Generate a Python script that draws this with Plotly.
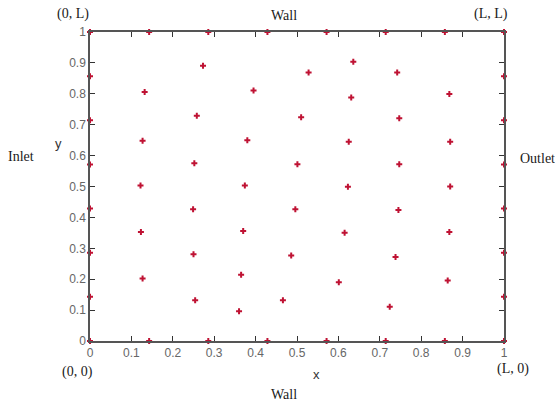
import plotly.graph_objects as go

# Boundary collocation nodes: the square edge split into sevenths
edge = [0, 1/7, 2/7, 3/7, 4/7, 5/7, 6/7, 1]
inner = [1/7, 2/7, 3/7, 4/7, 5/7, 6/7]

bottom_x = edge
bottom_y = [0] * len(edge)
top_x = edge
top_y = [1] * len(edge)
left_x = [0] * len(inner)
left_y = inner
right_x = [1] * len(inner)
right_y = inner

# Scattered interior nodes
interior_x = [0.273, 0.132, 0.258, 0.127, 0.252, 0.122,
              0.636, 0.528, 0.395, 0.631, 0.510, 0.380, 0.625, 0.501, 0.374, 0.623,
              0.742, 0.868, 0.747, 0.870, 0.747, 0.870,
              0.249, 0.123, 0.250, 0.127, 0.254,
              0.496, 0.370, 0.615, 0.486, 0.365, 0.601, 0.466, 0.360,
              0.745, 0.868, 0.738, 0.864, 0.724]
interior_y = [0.891, 0.806, 0.729, 0.648, 0.575, 0.503,
              0.904, 0.869, 0.811, 0.788, 0.724, 0.650, 0.645, 0.572, 0.503, 0.499,
              0.869, 0.799, 0.721, 0.645, 0.572, 0.500,
              0.426, 0.353, 0.281, 0.202, 0.132,
              0.426, 0.356, 0.350, 0.277, 0.214, 0.190, 0.132, 0.096,
              0.424, 0.353, 0.272, 0.196, 0.111]

ticks = [0, 0.1, 0.2, 0.3, 0.4, 0.5, 0.6, 0.7, 0.8, 0.9, 1]
tick_text = ["0", "0.1", "0.2", "0.3", "0.4", "0.5", "0.6", "0.7", "0.8", "0.9", "1"]

xs = bottom_x + top_x + left_x + right_x + interior_x
ys = bottom_y + top_y + left_y + right_y + interior_y

fig = go.Figure(go.Scatter(
    x=xs, y=ys, mode="markers",
    marker=dict(symbol="cross", size=5, color="#bf1233", line=dict(width=0)),
    cliponaxis=False, hoverinfo="x+y",
))

axis_common = dict(
    range=[0, 1], tickvals=ticks, ticktext=tick_text,
    showgrid=False, zeroline=False,
    showline=True, linecolor="#555555", linewidth=1.5,
    mirror="ticks", ticks="inside", ticklen=5, tickwidth=1, tickcolor="#333333",
    tickfont=dict(family="Liberation Sans, Arial", size=12, color="#666666"),
)

fig.update_xaxes(**axis_common, ticklabelstandoff=0)
fig.update_yaxes(**axis_common)

W, H = 555, 403
L, R, T, B = 90, 51, 32, 62


def px(xp):
    return (xp - L) / (W - L - R)


def py(yp):
    return (H - B - yp) / (H - T - B)


serif = dict(family="Liberation Serif, Times New Roman", size=14, color="#1a1a1a")
sans = dict(family="Liberation Sans, Arial", size=13, color="#333333")

labels = [
    ("(0, L)", 73, 14, serif),
    ("Wall", 284, 15, serif),
    ("(L, L)", 491, 14, serif),
    ("Inlet", 21, 156, serif),
    ("Outlet", 537, 158, serif),
    ("y", 58, 143, sans),
    ("(0, 0)", 77, 372, serif),
    ("x", 316, 374, sans),
    ("(L, 0)", 513, 369, serif),
    ("Wall", 284, 394, serif),
]
for text, xp, yp, font in labels:
    fig.add_annotation(text=text, x=px(xp), y=py(yp), xref="paper", yref="paper",
                       showarrow=False, font=font, xanchor="center", yanchor="middle")

fig.update_layout(
    width=W, height=H,
    margin=dict(l=L, r=R, t=T, b=B),
    paper_bgcolor="white", plot_bgcolor="white",
    showlegend=False,
)

fig.write_html("out.html")
